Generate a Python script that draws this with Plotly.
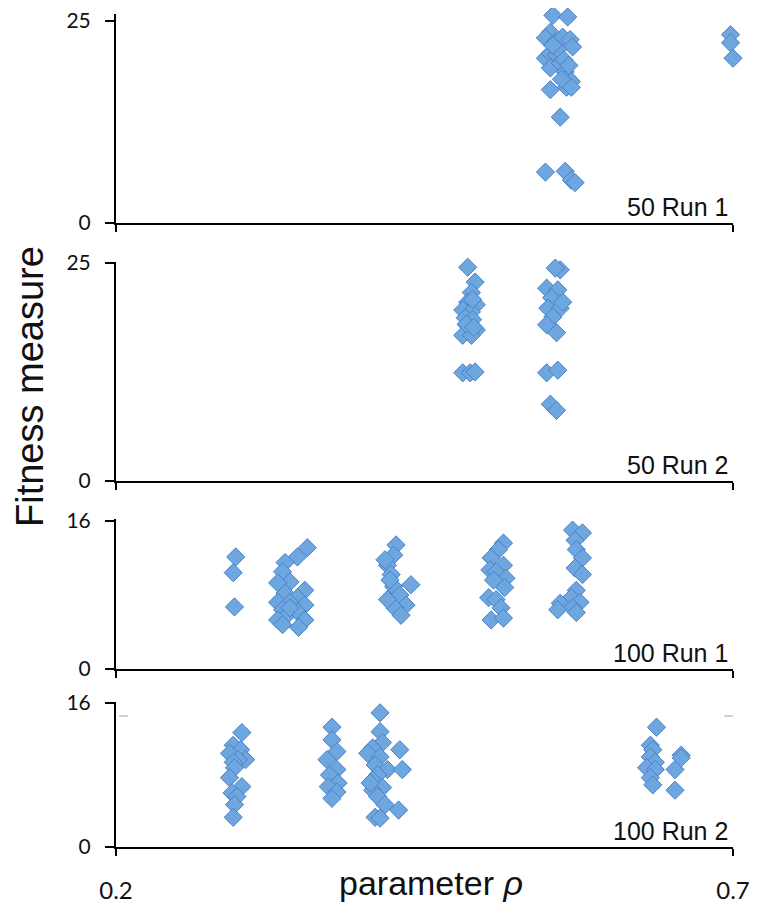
import plotly.graph_objects as go

# ---------------- data ----------------
panel_labels = ["50 Run 1", "50 Run 2", "100 Run 1", "100 Run 2"]
y_tops = [25, 25, 16, 16]

x_50_run1 = [0.554, 0.566, 0.552, 0.548, 0.556, 0.562, 0.568, 0.570, 0.548, 0.552,
             0.557, 0.552, 0.560, 0.564, 0.566, 0.569, 0.565, 0.569, 0.552, 0.560,
             0.548, 0.564, 0.569, 0.572, 0.558, 0.563, 0.567, 0.554, 0.561,
             0.698, 0.702, 0.698, 0.702, 0.700, 0.704]
y_50_run1 = [25.7, 25.5, 23.6, 22.9, 22.4, 23.0, 22.7, 21.8, 20.4, 21.0,
             20.8, 19.2, 19.8, 18.7, 18.0, 17.5, 16.8, 16.8, 16.5, 13.1,
             6.3, 6.4, 5.3, 5.0, 21.5, 20.2, 19.5, 22.0, 17.8,
             23.3, 22.7, 22.3, 21.2, 20.4, 18.0]

x_50_run2 = [0.485, 0.491, 0.488, 0.485, 0.492, 0.481, 0.488, 0.483, 0.489, 0.484,
             0.492, 0.481, 0.488, 0.481, 0.487, 0.491, 0.489, 0.484, 0.490,
             0.560, 0.549, 0.558, 0.553, 0.550, 0.560, 0.554, 0.549, 0.557, 0.549,
             0.558, 0.552, 0.557, 0.562, 0.556]
y_50_run2 = [24.5, 22.8, 21.6, 20.5, 20.2, 19.6, 19.4, 18.7, 18.5, 17.9,
             17.3, 16.7, 16.7, 12.4, 12.4, 12.5, 20.8, 18.0, 17.6,
             24.2, 22.1, 21.9, 21.0, 19.8, 19.8, 18.8, 17.9, 17.0, 12.4,
             12.7, 8.8, 8.1, 20.5, 24.4]

x_100_run1 = [0.297, 0.295, 0.296,
              0.355, 0.347, 0.337, 0.335, 0.341, 0.331, 0.353, 0.337, 0.347, 0.331,
              0.341, 0.353, 0.335, 0.347, 0.337, 0.331, 0.353, 0.341, 0.335, 0.348,
              0.427, 0.425, 0.420, 0.423, 0.439, 0.425, 0.430, 0.435, 0.426, 0.431,
              0.418, 0.420, 0.422,
              0.514, 0.510, 0.504, 0.514, 0.503, 0.508, 0.516, 0.506, 0.515, 0.502,
              0.508, 0.512, 0.504, 0.514,
              0.570, 0.578, 0.572, 0.573, 0.578, 0.572, 0.578, 0.573, 0.569, 0.576,
              0.560, 0.570, 0.558, 0.573]
y_100_run1 = [12.1, 10.4, 6.7,
              13.1, 12.1, 11.5, 10.5, 9.4, 9.3, 8.5, 8.2, 7.7, 7.2,
              7.2, 6.9, 6.4, 6.2, 5.6, 5.3, 5.3, 6.6, 4.8, 4.5,
              13.4, 12.3, 11.2, 10.2, 9.1, 8.9, 8.0, 6.9, 6.6, 5.8,
              11.8, 7.5, 9.6,
              13.6, 12.9, 12.0, 11.2, 10.7, 10.5, 9.8, 9.6, 8.8, 7.7,
              7.5, 6.6, 5.3, 5.5,
              15.0, 14.7, 13.9, 12.9, 12.0, 10.9, 10.2, 8.5, 7.7, 7.2,
              7.1, 6.6, 6.4, 6.1]

x_100_run2 = [0.302, 0.295, 0.301, 0.292, 0.305, 0.299, 0.295, 0.296, 0.292, 0.302,
              0.294, 0.298, 0.296, 0.295,
              0.375, 0.375, 0.379, 0.371, 0.379, 0.373, 0.380, 0.372, 0.379, 0.375,
              0.414, 0.414, 0.416, 0.408, 0.404, 0.414, 0.430, 0.410, 0.420, 0.432,
              0.412, 0.408, 0.416, 0.408, 0.412, 0.418, 0.429, 0.410, 0.414, 0.406,
              0.638, 0.633, 0.635, 0.658, 0.633, 0.637, 0.630, 0.637, 0.653, 0.633,
              0.635, 0.653, 0.658]
y_100_run2 = [12.7, 11.3, 10.8, 10.4, 9.7, 9.7, 9.4, 8.8, 7.7, 6.7,
              6.0, 5.6, 4.7, 3.3,
              13.3, 11.9, 10.6, 9.7, 8.6, 8.0, 7.1, 6.7, 6.1, 5.4,
              14.9, 12.8, 11.6, 11.0, 10.4, 10.0, 10.8, 9.1, 8.6, 8.6,
              8.0, 7.4, 6.6, 6.3, 5.6, 4.7, 4.1, 3.3, 3.2, 7.1,
              13.3, 11.3, 10.8, 10.2, 10.0, 9.4, 8.8, 8.6, 8.6, 7.7,
              6.9, 6.3, 9.9]

series_x = [x_50_run1, x_50_run2, x_100_run1, x_100_run2]
series_y = [y_50_run1, y_50_run2, y_100_run1, y_100_run2]

x_tick_vals = [0.2, 0.7]
x_tick_text = ["0.2", "0.7"]

# ---------------- layout geometry ----------------
W, H = 766, 912
PAGE_OFF = 8            # default body margin of the html page
ML = 116 - PAGE_OFF
MR = 766 - 733 + PAGE_OFF
PW = W - ML - MR
# target screen rows of each panel (top of axis, y=0 line) and y-range tops
panel_px = [(14, 223), (262, 481), (519, 669), (702, 847)]
y_range_tops = [25.87, 25.1, 16.2, 16.1]


def fy(py):
    return 1 - (py - PAGE_OFF) / H


def fx(px):
    return (px - 116) / PW


fig = go.Figure()
tick_font = dict(family="Lato, Calibri, sans-serif", size=21, color="#111")
marker = dict(symbol="diamond", size=14, color="rgb(110,166,224)",
              line=dict(color="rgb(74,130,198)", width=1))

for i in range(4):
    n = "" if i == 0 else str(i + 1)
    fig.add_trace(go.Scatter(x=series_x[i], y=series_y[i], mode="markers",
                             marker=marker, cliponaxis=False, showlegend=False,
                             xaxis="x" + n, yaxis="y" + n))
    top, bot = panel_px[i]
    fig.layout["xaxis" + n] = dict(
        domain=[0, 1], range=[0.2, 0.7], anchor="y" + n, automargin=False,
        showline=True, linecolor="black", linewidth=2,
        ticks="outside", ticklen=7, tickwidth=2, tickcolor="black",
        tickvals=x_tick_vals, ticktext=x_tick_text,
        showticklabels=(i == 3), showgrid=False, zeroline=False,
        tickfont=dict(family="Lato, Calibri, sans-serif", size=24, color="#111"),
        ticklabelstandoff=14, ticklabeloverflow="allow",
    )
    fig.layout["yaxis" + n] = dict(
        domain=[fy(bot), fy(top)], range=[0, y_range_tops[i]], anchor="x" + n,
        automargin=False,
        showline=True, linecolor="black", linewidth=2,
        ticks="outside", ticklen=9, tickwidth=2, tickcolor="black",
        tickvals=[0, y_tops[i]], showgrid=False, zeroline=False,
        tickfont=tick_font, ticklabelstandoff=10, ticklabeloverflow="allow",
    )
    fig.add_annotation(text=panel_labels[i], xref="x" + n, yref="y" + n,
                       x=0.7, y=0, xanchor="right", yanchor="bottom",
                       xshift=-3, yshift=0, showarrow=False,
                       font=dict(family="Liberation Sans, Arial, sans-serif", size=25, color="#111"))

# faint dashed artefact line in bottom panel
for x0, x1 in [(0.188, 0.213), (0.693, 0.712)]:
    fig.add_shape(type="line", xref="x4", yref="y4", x0=x0, x1=x1, y0=14.55, y1=14.55,
                  line=dict(color="rgba(120,120,120,0.7)", width=1, dash="dash"))

fig.add_annotation(text="Fitness measure", xref="paper", yref="paper",
                   x=fx(30), y=fy(387), textangle=-90,
                   xanchor="center", yanchor="middle", showarrow=False,
                   font=dict(family="Liberation Sans, Arial, sans-serif", size=38, color="#111"))
fig.add_annotation(text="parameter <i>ρ</i>", xref="paper", yref="paper",
                   x=fx(431), y=fy(883),
                   xanchor="center", yanchor="middle", showarrow=False,
                   font=dict(family="Liberation Sans, Arial, sans-serif", size=34, color="#111"))

fig.update_layout(template="none", width=W, height=H,
                  margin=dict(l=ML, r=MR, t=0, b=0, pad=0, autoexpand=False),
                  paper_bgcolor="white", plot_bgcolor="white")

fig.write_html("out.html")
